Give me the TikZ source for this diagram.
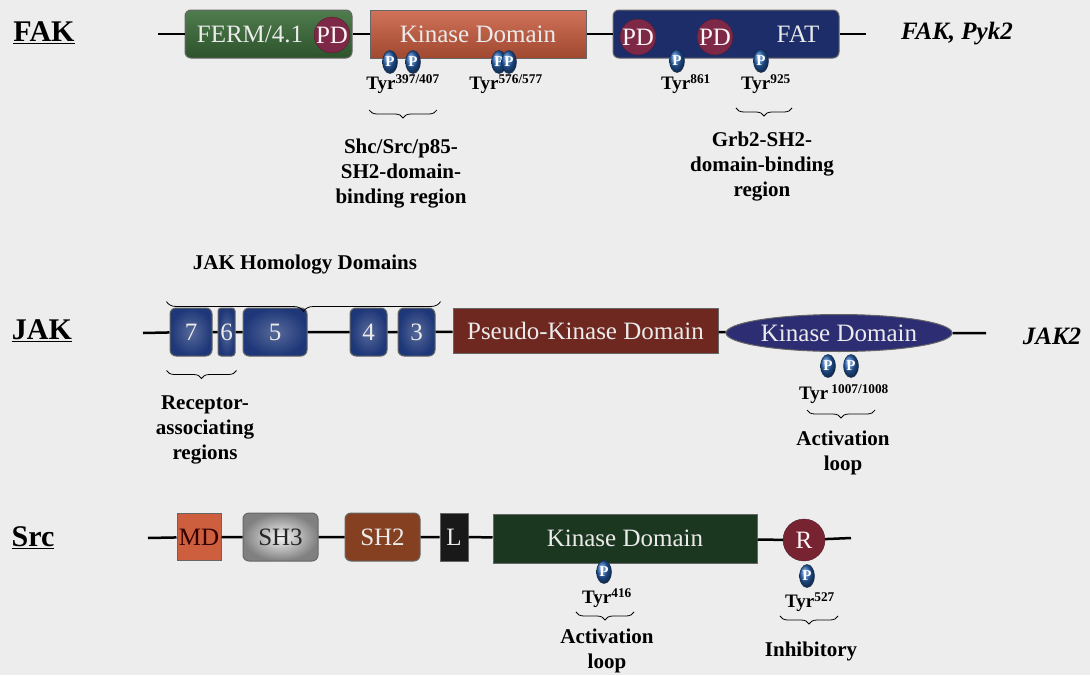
\documentclass[tikz,border=0pt]{standalone}
\usepackage{fontspec}
\setmainfont{Liberation Serif}
\usetikzlibrary{shapes.geometric,decorations.pathreplacing,calc,positioning}

\definecolor{bggray}{RGB}{237,237,237}
\definecolor{fermgreen}{RGB}{60,110,58}
\definecolor{kinorange}{RGB}{200,90,60}
\definecolor{fatnavy}{RGB}{28,45,105}
\definecolor{pdred}{RGB}{125,40,70}
\definecolor{jakblue}{RGB}{30,55,120}
\definecolor{pseudored}{RGB}{110,40,32}
\definecolor{jkinblue}{RGB}{45,45,115}
\definecolor{mdorange}{RGB}{205,95,62}
\definecolor{sh2brown}{RGB}{165,80,40}
\definecolor{srcgreen}{RGB}{28,55,32}
\definecolor{rred}{RGB}{120,35,50}
\definecolor{pblue}{RGB}{40,100,180}
\definecolor{domtext}{RGB}{235,235,235}

\newcommand\domfont{\fontsize{25}{28}\selectfont}
\newcommand\lblfont{\fontsize{30}{34}\selectfont\bfseries}
\newcommand\namefont{\fontsize{25}{28}\selectfont\bfseries\itshape}
\newcommand\tyrfont{\fontsize{19}{22}\selectfont\bfseries}
\newcommand\notefont{\fontsize{21}{25}\selectfont\bfseries}
\newcommand\phosfont{\fontsize{15}{15}\selectfont\bfseries}

\begin{document}
\begin{tikzpicture}[x=1pt,y=-1pt,
    inner sep=0pt, %nodes sized by hand
    dom/.style={draw=black!60,line width=1pt,minimum height=48pt,
        text=domtext,font=\domfont},
    rdom/.style={dom,rounded corners=6pt},
    pd/.style={circle,minimum size=29pt,fill=pdred,draw=pdred!70!black,
        text=white!85!pink,font=\domfont},
    phos/.style={ellipse,minimum width=15pt,minimum height=23pt,
        ball color=pblue,draw=pblue!40!black,text=white,font=\phosfont},
    tyr/.style={font=\tyrfont},
    note/.style={font=\notefont,align=center},
    brc/.style={decorate,decoration={brace,mirror,amplitude=8pt},line width=0.8pt},
    bb/.style={line width=2.5pt},
    ]

    \path[fill=bggray,use as bounding box] (0,0) rectangle (1090,675);

    %FAK
    \node[font=\lblfont] (fak) at (44,33) {\underline{FAK}};
    \coordinate (fakL) at (158,34);
    \coordinate (fakR) at (866,34);
    \node[rdom,minimum width=167pt,top color=fermgreen!90!white,
        bottom color=fermgreen!75!black] (ferm) at (268.5,34) {};
    \node[font=\domfont,text=domtext] (fermtxt) at (250,34) {FERM/4.1};
    \node[pd] (pd1) at (332,35) {PD};
    \node[dom,minimum width=216pt,top color=kinorange!85!white,
        bottom color=kinorange!80!black] (fkin) at (478,34) {Kinase Domain};
    \node[rdom,minimum width=226pt,fill=fatnavy] (fat) at (726,34) {};
    \node[pd] (pd2) at (638,37) {PD};
    \node[pd] (pd3) at (715,37) {PD};
    \node[font=\domfont,text=domtext] (fattxt) at (798,34) {FAT};
    \node[font=\namefont] (fakname) at (957,34) {FAK, Pyk2};
    \draw[bb] (fakL) -- (ferm) -- (fkin) -- (fat) -- (fakR);

    \node[phos] (p397) at (390,62) {P};
    \node[phos] (p407) at (413,62) {P};
    \node[phos] (p576) at (499,62) {P};
    \node[phos] (p577) at (509,62) {P};
    \node[phos] (p861) at (677,61) {P};
    \node[phos] (p925) at (761,61) {P};

    \node[tyr] (t397) at (403,84) {Tyr\textsuperscript{397/407}};
    \node[tyr] (t576) at (506,84) {Tyr\textsuperscript{576/577}};
    \node[tyr] (t861) at (686,84) {Tyr\textsuperscript{861}};
    \node[tyr] (t925) at (766,84) {Tyr\textsuperscript{925}};

    \draw[brc] ($(t397.west)+(3,26)$) -- ($(t397.east)+(-3,26)$);
    \draw[brc] ($(t925.west)+(-5,24)$) -- ($(t925.east)+(1,24)$);
    \node[note] (shc) at (401,174) {Shc/Src/p85-\\SH2-domain-\\binding region};
    \node[note] (grb) at (762,167) {Grb2-SH2-\\domain-binding\\region};

    %JAK
    \node[font=\lblfont] (jak) at (42,331) {\underline{JAK}};
    \coordinate (jakL) at (143,333);
    \coordinate (jakR) at (986,333);
    \node[rdom,minimum width=42pt,inner color=jakblue!75!white,
        outer color=jakblue] (j7) at (191,332) {7};
    \node[rdom,rounded corners=3pt,minimum width=17pt,inner color=jakblue!75!white,
        outer color=jakblue] (j6) at (226.5,332) {6};
    \node[rdom,minimum width=64pt,inner color=jakblue!75!white,
        outer color=jakblue] (j5) at (275,332) {5};
    \node[rdom,minimum width=37pt,inner color=jakblue!75!white,
        outer color=jakblue] (j4) at (368.5,332) {4};
    \node[rdom,minimum width=37pt,inner color=jakblue!75!white,
        outer color=jakblue] (j3) at (416.5,332) {3};
    \node[dom,minimum width=265pt,minimum height=45pt,fill=pseudored]
        (pseudo) at (585.5,331) {Pseudo-Kinase Domain};
    \node[dom,ellipse,minimum width=226pt,minimum height=37pt,fill=jkinblue]
        (jkin) at (839,333) {Kinase Domain};
    \node[font=\namefont] (jakname) at (1052,336) {JAK2};
    \draw[bb] (jakL) -- (j7) -- (j6) -- (j5) -- (j4) -- (j3) -- (pseudo)
        -- (jkin) -- (jakR);

    \node[phos] (p1007) at (828,366) {P};
    \node[phos] (p1008) at (851,366) {P};
    \node[tyr] (t1007) at (844,394) {Tyr\,\textsuperscript{1007/1008}};
    \draw[brc] ($(t1007.west)+(8,16)$) -- ($(t1007.east)+(-14,16)$);
    \node[note] (jloop) at (843,453) {Activation\\loop};

    \draw[brc,decoration={brace,amplitude=10pt}]
        ($(j7.north west)+(-3,-6)$) -- ($(j3.north east)+(5,-6)$);
    \node[note] (jhom) at (305,265) {JAK Homology Domains};
    \draw[brc] ($(j7.south west)+(-3,14)$) -- ($(j6.south east)+(1,14)$);
    \node[note] (recp) at (205,430) {Receptor-\\associating\\regions};

    %Src
    \node[font=\lblfont] (src) at (33,538) {\underline{Src}};
    \coordinate (srcL) at (148,538);
    \coordinate (srcR) at (851,538);
    \node[dom,minimum width=44pt,minimum height=47pt,fill=mdorange,
        text=black!80!red] (md) at (199,537) {MD};
    \node[rdom,minimum width=75pt,inner color=white!92!gray,outer color=gray,
        text=black!85] (sh3) at (280.5,537) {SH3};
    \node[rdom,minimum width=75pt,top color=sh2brown!80!black,
        middle color=sh2brown!70!orange!90!white,bottom color=sh2brown!80!black]
        (sh2) at (382.5,537) {SH2};
    \node[dom,minimum width=28pt,fill=black!90] (lk) at (454,537) {L};
    \node[dom,minimum width=264pt,minimum height=49pt,fill=srcgreen]
        (skin) at (625,538.5) {Kinase Domain};
    \node[pd,minimum size=42pt,fill=rred] (reg) at (804,540) {R};
    \draw[bb] (srcL) -- (md) -- (sh3) -- (sh2) -- (lk) -- (skin) -- (reg) -- (srcR);

    \node[phos] (p416) at (604,572) {P};
    \node[phos] (p527) at (807,576) {P};
    \node[tyr] (t416) at (607,598) {Tyr\textsuperscript{416}};
    \node[tyr] (t527) at (810,602) {Tyr\textsuperscript{527}};
    \draw[brc] ($(t416.west)+(-6,14)$) -- ($(t416.east)+(2,14)$);
    \draw[brc] ($(t527.west)+(-5,14)$) -- ($(t527.east)+(3,14)$);
    \node[note] (sloop) at (607,651) {Activation\\loop};
    \node[note] (inhib) at (811,651) {Inhibitory};

\end{tikzpicture}
\end{document}
